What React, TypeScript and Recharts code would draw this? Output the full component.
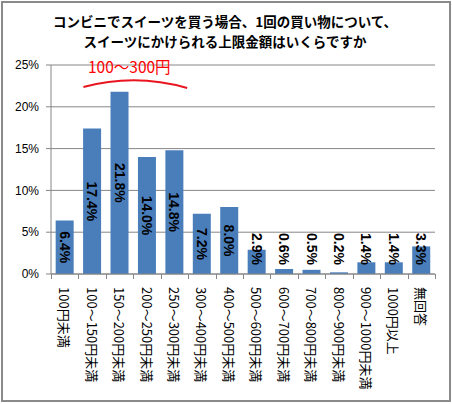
import { BarChart, Bar, XAxis, YAxis, CartesianGrid, LabelList } from 'recharts';

const categories = [
  '100円未満',
  '100〜150円未満',
  '150〜200円未満',
  '200〜250円未満',
  '250〜300円未満',
  '300〜400円未満',
  '400〜500円未満',
  '500〜600円未満',
  '600〜700円未満',
  '700〜800円未満',
  '800〜900円未満',
  '900〜1000円未満',
  '1000円以上',
  '無回答',
];
const shares = [6.4, 17.4, 21.8, 14.0, 14.8, 7.2, 8.0, 2.9, 0.6, 0.5, 0.2, 1.4, 1.4, 3.3];
const yTicks = [0, 5, 10, 15, 20, 25];
const titleLines = ['コンビニでスイーツを買う場合、1回の買い物について、', 'スイーツにかけられる上限金額はいくらですか'];
const noteText = '100〜300円';

const data = categories.map((name, i) => ({ name, share: shares[i] }));

const W = 452;
const H = 404;
const AXIS = '#868686';
const BAR = '#4A7EBB';
const margin = { top: 65, right: 17, bottom: 5, left: 0 };
const Y_W = 51;
const X_H = 125;
const plotLeft = margin.left + Y_W;
const band = (W - margin.left - margin.right - Y_W) / categories.length;

function CategoryTick(props: any) {
  const { x, y, payload, index } = props;
  const axisY = y - 13;
  const left = Math.round(x - band / 2) + 0.5;
  const right = Math.round(x + band / 2) + 0.5;
  return (
    <g>
      <line x1={left} x2={left} y1={axisY} y2={axisY + 5} stroke={AXIS} />
      {index === categories.length - 1 && <line x1={right} x2={right} y1={axisY} y2={axisY + 5} stroke={AXIS} />}
      <text
        transform={`translate(${x},${y}) rotate(90)`}
        textAnchor="start"
        dominantBaseline="central"
        fontSize={13}
        fontFamily="'Noto Sans CJK JP', sans-serif"
        fill="#000"
      >
        {payload.value}
      </text>
    </g>
  );
}

function ShareLabel(props: any) {
  const { x, y, width, height, value } = props;
  const cx = x + width / 2;
  const base = y + height;
  // centred in the bar, but never closer to the axis than the text allows
  const cy = Math.min(y + height / 2, base - 25);
  return (
    <text
      transform={`translate(${cx},${cy}) rotate(90)`}
      textAnchor="middle"
      dominantBaseline="central"
      fontFamily="'Liberation Sans', Arial, sans-serif"
      fontWeight="bold"
      fontSize={14}
      fill="#000"
    >
      {Number(value).toFixed(1)}%
    </text>
  );
}

export default function App() {
  const arcStart = plotLeft + band + 5;
  const arcEnd = plotLeft + band * 5 - 1;
  const arcMid = (arcStart + arcEnd) / 2;
  return (
    <div style={{ position: 'absolute', left: 0, top: 0, width: W, height: H, background: '#fff' }}>
      <BarChart width={W} height={H} data={data} margin={margin} barCategoryGap="17%">
        <CartesianGrid vertical={false} stroke={AXIS} />
        <XAxis
          dataKey="name"
          interval={0}
          height={X_H}
          tickLine={false}
          tickSize={5}
          tickMargin={8}
          axisLine={{ stroke: AXIS }}
          tick={<CategoryTick />}
        />
        <YAxis
          width={Y_W}
          domain={[0, 25]}
          ticks={yTicks}
          tickFormatter={(v) => `${v}%`}
          tickSize={5}
          tickMargin={7}
          axisLine={{ stroke: AXIS }}
          tickLine={{ stroke: AXIS }}
          tick={{ fill: '#000', fontSize: 12, fontFamily: "'Liberation Sans', Arial, sans-serif" }}
        />
        <Bar dataKey="share" fill={BAR} isAnimationActive={false}>
          <LabelList dataKey="share" content={<ShareLabel />} />
        </Bar>
      </BarChart>
      <svg width={W} height={H} style={{ position: 'absolute', left: 0, top: 0, pointerEvents: 'none' }}>
        {titleLines.map((line, i) => (
          <text
            key={i}
            x={225}
            y={21 + i * 20}
            textAnchor="middle"
            dominantBaseline="central"
            fontFamily="'Noto Sans CJK JP', sans-serif"
            fontWeight="bold"
            fontSize={13.5}
            fill="#000"
          >
            {line}
          </text>
        ))}
        <text
          x={88}
          y={66}
          dominantBaseline="central"
          fontFamily="'Noto Sans CJK JP', sans-serif"
          fontSize={15.5}
          fill="#ff0000"
        >
          {noteText}
        </text>
        <path
          d={`M${arcStart} 87 Q${arcMid} 73 ${arcEnd} 88`}
          fill="none"
          stroke="#e8141e"
          strokeWidth={2}
        />
      </svg>
      <div
        style={{
          position: 'absolute',
          left: 1,
          top: 1,
          width: 446,
          height: 397,
          border: '2px solid #8a8a8a',
          pointerEvents: 'none',
        }}
      />
    </div>
  );
}
